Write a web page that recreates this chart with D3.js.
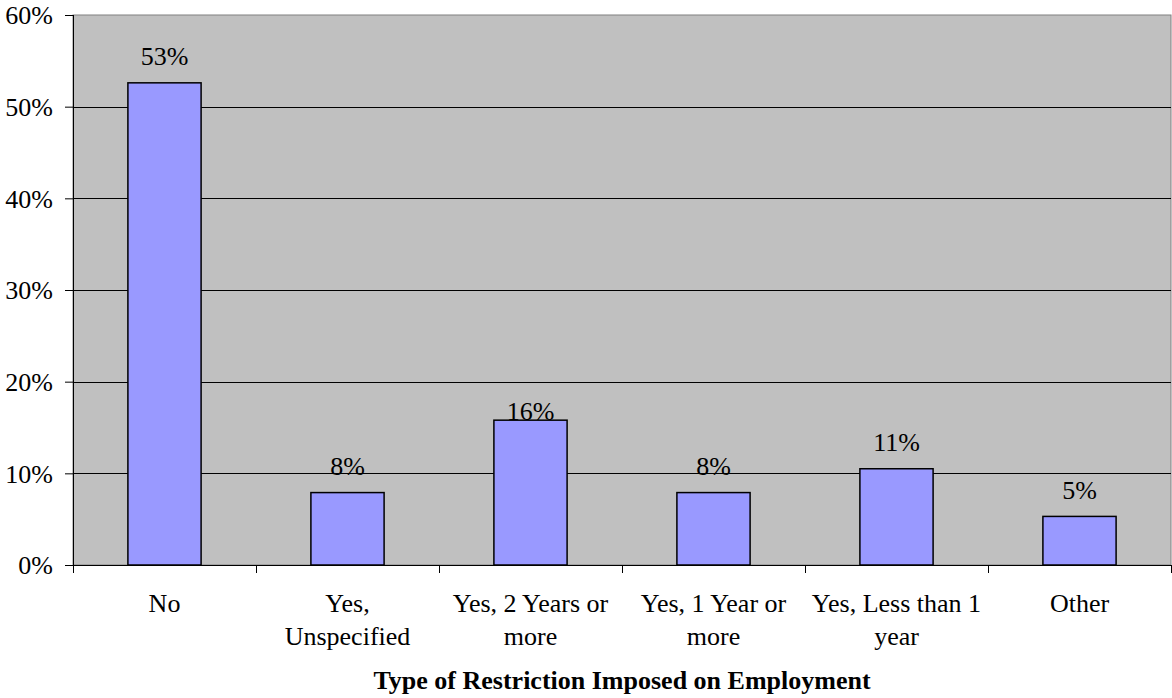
<!DOCTYPE html>
<html><head><meta charset="utf-8">
<script src="https://cdn.jsdelivr.net/npm/d3@7"></script>
<style>body{margin:0;background:#fff}svg{display:block}</style>
</head><body>
<svg id="chart" width="1172" height="698"></svg>
<script>
const categories = ["No", "Yes,\nUnspecified", "Yes, 2 Years or\nmore", "Yes, 1 Year or\nmore", "Yes, Less than 1\nyear", "Other"];
const values = [0.526, 0.079, 0.158, 0.079, 0.105, 0.053];
const valueLabels = ["53%", "8%", "16%", "8%", "11%", "5%"];
const yTicks = [0, 0.1, 0.2, 0.3, 0.4, 0.5, 0.6];
const xTitle = "Type of Restriction Imposed on Employment";

const FONT = "'Liberation Serif', 'Times New Roman', Tinos, serif";
const FS = 26;
const svg = d3.select("#chart");
const m = {left: 73, top: 15, right: 1171, bottom: 565};
const x = d3.scaleBand().domain(categories).range([m.left, m.right]).paddingInner(0.6).paddingOuter(0.3);
const y = d3.scaleLinear().domain([0, 0.6]).range([m.bottom, m.top]);

svg.append("rect").attr("x", m.left).attr("y", m.top).attr("width", m.right - m.left).attr("height", m.bottom - m.top)
  .attr("fill", "#c0c0c0").attr("stroke", "#808080").attr("stroke-width", 1);

// gridlines
svg.append("g").selectAll("line").data(yTicks.filter(d => d > 0 && d < 0.6)).join("line")
  .attr("x1", m.left).attr("x2", m.right).attr("y1", d => Math.round(y(d)) + 0.5).attr("y2", d => Math.round(y(d)) + 0.5)
  .attr("stroke", "#000").attr("stroke-width", 1);

// bars
svg.append("g").selectAll("rect").data(values).join("rect")
  .attr("x", (d, i) => x(categories[i])).attr("width", x.bandwidth())
  .attr("y", d => y(d)).attr("height", d => y(0) - y(d))
  .attr("fill", "#9999ff").attr("stroke", "#000").attr("stroke-width", 1.5);

// value labels
const nudge = {2: 17};
svg.append("g").selectAll("text").data(values).join("text")
  .attr("x", (d, i) => x(categories[i]) + x.bandwidth() / 2)
  .attr("y", (d, i) => y(d) - 17.5 + (nudge[i] || 0))
  .attr("text-anchor", "middle").style("font-family", FONT).style("font-size", FS + "px").attr("fill", "#000")
  .text((d, i) => valueLabels[i]);

// y axis
const yAxis = d3.axisLeft(y).tickValues(yTicks).tickFormat(d3.format(".0%")).tickSize(8).tickPadding(12);
const gy = svg.append("g").attr("transform", `translate(${m.left},0)`).call(yAxis);
gy.select(".domain").attr("stroke", "#000").attr("d", `M0.5,${m.top}V${m.bottom}`);
gy.selectAll(".tick line").attr("stroke", "#000");
gy.selectAll(".tick text").style("font-family", FONT).style("font-size", FS + "px").attr("fill", "#000").attr("dy", "0.34em");

// x axis with ticks at band boundaries
const boundaries = d3.range(categories.length + 1).map(i => m.left + i * x.step());
const gx = svg.append("g");
gx.append("line").attr("x1", m.left).attr("x2", m.right).attr("y1", m.bottom + 0.5).attr("y2", m.bottom + 0.5).attr("stroke", "#000");
gx.selectAll("line.t").data(boundaries).join("line").attr("class", "t")
  .attr("x1", d => Math.round(d) + 0.5).attr("x2", d => Math.round(d) + 0.5)
  .attr("y1", m.bottom).attr("y2", m.bottom + 8).attr("stroke", "#000");

gx.selectAll("text.c").data(categories).join("text").attr("class", "c")
  .attr("text-anchor", "middle").style("font-family", FONT).style("font-size", FS + "px").attr("fill", "#000")
  .each(function(d) {
    const t = d3.select(this);
    d.split("\n").forEach((line, j) => {
      t.append("tspan").attr("x", x(d) + x.bandwidth() / 2).attr("y", 612 + j * 32.5).text(line);
    });
  });

svg.append("text").attr("x", (m.left + m.right) / 2).attr("y", 689).attr("text-anchor", "middle")
  .style("font-family", FONT).style("font-size", "26px").style("font-weight", "bold").attr("fill", "#000").text(xTitle);
</script>
</body></html>
